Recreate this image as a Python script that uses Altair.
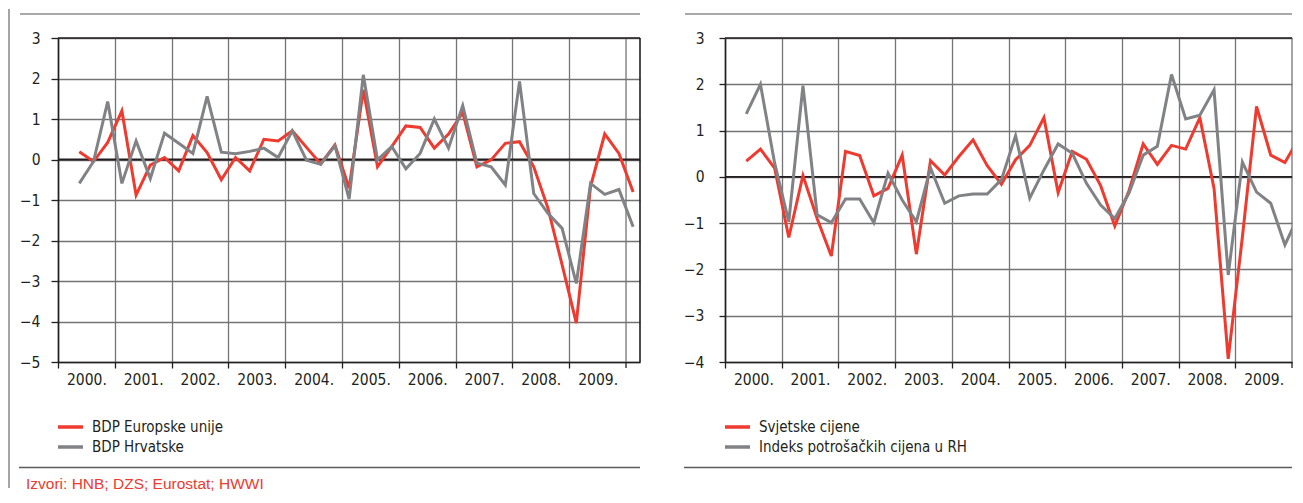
import altair as alt
import pandas as pd

# ---- data ----
quarters = ["2000Q2", "2000Q3", "2000Q4"] + [f"{y}Q{q}" for y in range(2001, 2010) for q in range(1, 5)] + ["2010Q1"]
years = list(range(2000, 2010))
year_end = 2010

left_names = ["BDP Europske unije", "BDP Hrvatske"]
eu_gdp = [0.19, -0.05, 0.42, 1.2, -0.88, -0.14, 0.05, -0.28, 0.59, 0.17,
          -0.5, 0.05, -0.28, 0.5, 0.46, 0.71, 0.3, -0.11, 0.36, -0.71,
          1.72, -0.18, 0.32, 0.83, 0.79, 0.28, 0.63, 1.16, -0.18, -0.01,
          0.4, 0.44, -0.18, -1.2, -2.6, -4.04, -0.67, 0.63, 0.15, -0.8]
hr_gdp = [-0.59, -0.05, 1.43, -0.59, 0.46, -0.47, 0.65, 0.4, 0.15, 1.56,
          0.18, 0.14, 0.2, 0.28, 0.05, 0.71, -0.02, -0.12, 0.34, -0.98,
          2.09, -0.01, 0.32, -0.23, 0.15, 1.0, 0.28, 1.33, -0.09, -0.18,
          -0.63, 1.93, -0.84, -1.33, -1.7, -3.06, -0.59, -0.86, -0.74, -1.66]

right_names = ["Svjetske cijene", "Indeks potrošačkih cijena u RH"]
world_prices = [0.34, 0.6, 0.19, -1.31, 0.03, -0.9, -1.71, 0.55, 0.46, -0.41,
                -0.25, 0.47, -1.67, 0.35, 0.04, 0.44, 0.8, 0.24, -0.16, 0.37,
                0.68, 1.28, -0.34, 0.55, 0.38, -0.19, -1.06, -0.3, 0.71, 0.27,
                0.68, 0.6, 1.28, -0.25, -3.93, -1.3, 1.52, 0.47, 0.31, 0.84]
cpi_hr = [1.36, 2.0, 0.3, -0.97, 1.97, -0.82, -0.99, -0.48, -0.48, -0.99,
          0.08, -0.5, -0.97, 0.19, -0.57, -0.41, -0.37, -0.37, -0.06, 0.89,
          -0.46, 0.15, 0.71, 0.51, -0.14, -0.61, -0.9, -0.35, 0.47, 0.66,
          2.21, 1.25, 1.33, 1.88, -2.12, 0.32, -0.33, -0.57, -1.47, -0.81]

source_text = "Izvori: HNB; DZS; Eurostat; HWWI"

# ---- styles ----
RED = "#ee3a2f"
GRAY = "#808285"
GRID = "#747474"
DARK = "#231f20"
NARROW = "DejaVu Sans Condensed, Liberation Sans Narrow, Arial Narrow, sans-serif"
REG = "Liberation Sans, Arial, Helvetica, sans-serif"


def qpos(label):
    y, q = label.split("Q")
    return int(y) + (int(q) - 0.5) / 4


def frame(values):
    return pd.DataFrame({"period": quarters, "x": [qpos(p) for p in quarters], "value": values})


one = pd.DataFrame({"k": [0]})


def panel(names, s1, s2, ydom, xmax, width, height, ylabpad, ytick,
          rule_x0, right_border, vline, source):
    xscale = alt.Scale(domain=[2000, xmax], nice=False, zero=False)
    xenc = alt.X("x:Q", title=None, scale=xscale,
                 axis=alt.Axis(values=years, grid=True, gridColor=GRID, gridWidth=1.3,
                               labelExpr="datum.value + '.'",
                               labelOffset=width / (xmax - 2000) / 2, labelFlush=False,
                               labelOverlap=False, tickSize=6, tickColor=DARK, tickWidth=1.3,
                               domainColor=DARK, domainWidth=1.6, labelPadding=4,
                               labelFont=NARROW, labelFontSize=15.5, labelColor=DARK))
    yenc = alt.Y("value:Q", title=None,
                 scale=alt.Scale(domain=ydom, nice=False, zero=False),
                 axis=alt.Axis(values=list(range(ydom[0], ydom[1] + 1)), grid=True,
                               gridColor=GRID, gridWidth=1.3, tickSize=ytick, tickColor=DARK,
                               tickWidth=1.3, domainColor=DARK, domainWidth=1.6,
                               labelPadding=ylabpad, labelFont=NARROW, labelFontSize=15.5,
                               labelColor=DARK))
    l1 = alt.Chart(frame(s1)).mark_line(color=RED, strokeWidth=3, clip=True).encode(x=xenc, y=yenc)
    l2 = alt.Chart(frame(s2)).mark_line(color=GRAY, strokeWidth=3, clip=True).encode(x=xenc, y=yenc)

    endgrid = alt.Chart(one).mark_rule(color=GRID, strokeWidth=1.3).encode(
        x=alt.datum(year_end, scale=xscale), y=alt.value(0), y2=alt.value(height))
    endtick = alt.Chart(one).mark_rule(color=DARK, strokeWidth=1.3).encode(
        x=alt.datum(year_end, scale=xscale), y=alt.value(height), y2=alt.value(height + 6))
    zero = alt.Chart(one).mark_rule(color=DARK, strokeWidth=1.8).encode(y=alt.datum(0))
    top = alt.Chart(one).mark_rule(color=DARK, strokeWidth=1.6).encode(
        x=alt.value(0), x2=alt.value(width), y=alt.value(0))
    head = alt.Chart(one).mark_rule(color="#8c8c8c", strokeWidth=1.6).encode(
        x=alt.value(rule_x0), x2=alt.value(width), y=alt.value(-24))
    foot = alt.Chart(one).mark_rule(color="#5a5a5a", strokeWidth=1.6).encode(
        x=alt.value(rule_x0 - 1), x2=alt.value(width), y=alt.value(429.5))
    layers = [endgrid, endtick, zero, top, head, foot]
    if right_border:
        layers.append(alt.Chart(one).mark_rule(color=DARK, strokeWidth=1.6).encode(
            x=alt.value(width), y=alt.value(0), y2=alt.value(height)))
    if vline:
        layers.append(alt.Chart(one).mark_rule(color="#4a4a4a", strokeWidth=1).encode(
            x=alt.value(-49), y=alt.value(-29), y2=alt.value(450)))
    for i, (nm, col) in enumerate(zip(names, [RED, GRAY])):
        yy = 389 + 20 * i
        layers.append(alt.Chart(one).mark_rule(color=col, strokeWidth=3.5).encode(
            x=alt.value(0), x2=alt.value(25), y=alt.value(yy)))
        layers.append(alt.Chart(one).mark_text(text=nm, align="left", baseline="middle",
                                               font=NARROW, fontSize=15, color=DARK).encode(
            x=alt.value(34), y=alt.value(yy)))
    if source:
        layers.append(alt.Chart(one).mark_text(text=source, align="left", baseline="middle",
                                               font=REG, fontSize=15.5, color=RED).encode(
            x=alt.value(-32), y=alt.value(446)))
    return alt.layer(*layers, l1, l2).properties(width=width, height=height)


left = panel(left_names, eu_gdp, hr_gdp, [-5, 3], 2010.246, 582, 324, 11, 7,
             -38, True, True, source_text)
right = panel(right_names, world_prices, cpi_hr, [-4, 3], 2010.0, 567, 324, 15, 6,
              -40, False, False, None)

chart = alt.hconcat(left, right, spacing=85, bounds="flush").properties(
    padding=0).configure_view(stroke=None)

chart.save("out.html", embed_options={"renderer": "svg", "actions": False})
